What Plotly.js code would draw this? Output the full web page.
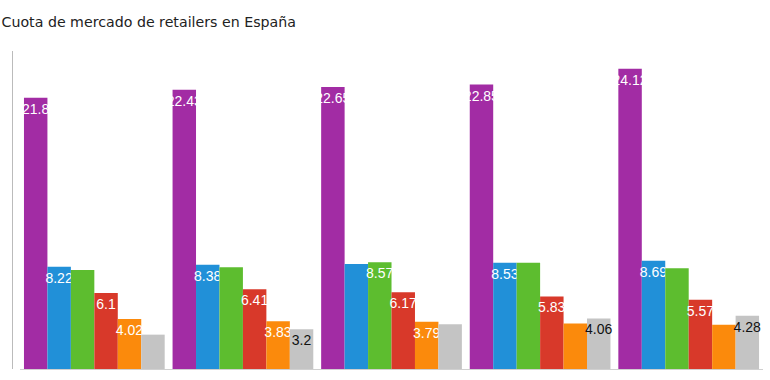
<!DOCTYPE html>
<html>
<head>
<meta charset="utf-8">
<script src="https://cdn.plot.ly/plotly-3.0.1.min.js"></script>
<style>html,body{margin:0;padding:0;background:#fff;}#chart{width:770px;height:380px;}</style>
</head>
<body>
<div id="chart"></div>
<script>
// Categories (periods) – not labelled in the reference
const categories = ['P1', 'P2', 'P3', 'P4', 'P5'];

// Series names and values (% market share)
const seriesNames = ['Mercadona', 'Carrefour', 'Grupo DIA', 'Eroski', 'Auchan', 'Lidl'];
const mercadona = [21.8, 22.43, 22.65, 22.85, 24.12];
const carrefour = [8.22, 8.38, 8.43, 8.53, 8.69];
const dia       = [7.95, 8.17, 8.57, 8.53, 8.10];
const eroski    = [6.1, 6.41, 6.17, 5.83, 5.57];
const auchan    = [4.02, 3.83, 3.79, 3.66, 3.56];
const lidl      = [2.76, 3.2, 3.6, 4.06, 4.28];

// Which value labels are visible in the reference
const mercadonaLabels = ['21.8', '22.43', '22.65', '22.85', '24.12'];
const carrefourLabels = ['8.22', '8.38', '', '8.53', '8.69'];
const diaLabels       = ['', '', '8.57', '', ''];
const eroskiLabels    = ['6.1', '6.41', '6.17', '5.83', '5.57'];
const auchanLabels    = ['4.02', '3.83', '3.79', '', ''];
const lidlLabels      = ['', '3.2', '', '4.06', '4.28'];

const series = [mercadona, carrefour, dia, eroski, auchan, lidl];
const labels = [mercadonaLabels, carrefourLabels, diaLabels, eroskiLabels, auchanLabels, lidlLabels];
const colors = ['#a22ca4', '#2190d8', '#5dbd2f', '#d8392a', '#fb8a0c', '#c4c4c4'];
const textColors = ['#ffffff', '#ffffff', '#ffffff', '#ffffff', '#ffffff', '#111111'];

const traces = series.map((vals, i) => ({
  type: 'bar',
  name: seriesNames[i],
  x: categories,
  y: vals,
  text: labels[i],
  textposition: 'inside',
  insidetextanchor: 'end',
  textangle: 0,
  constraintext: 'none',
  cliponaxis: false,
  insidetextfont: {family: 'Liberation Sans, Arial, sans-serif', size: 14, color: textColors[i]},
  marker: {color: colors[i], line: {width: 0}},
  hoverinfo: 'none'
}));

const layout = {
  width: 770,
  height: 380,
  margin: {l: 12, r: 7, t: 51, b: 11, pad: 0},
  paper_bgcolor: '#ffffff',
  plot_bgcolor: '#ffffff',
  showlegend: false,
  barmode: 'group',
  bargap: 0.053,
  bargroupgap: 0,
  title: {
    text: 'Cuota de mercado de retailers en España',
    x: 0.002, xref: 'container', xanchor: 'left',
    y: 0.943, yref: 'container', yanchor: 'middle',
    font: {family: 'DejaVu Sans, Verdana, sans-serif', size: 14.2, color: '#222222'}
  },
  xaxis: {
    domain: [0.0107, 1],
    range: [-0.5, 4.5],
    showticklabels: false,
    ticks: '',
    showgrid: false,
    zeroline: false,
    showline: true,
    linecolor: '#d0d0d0',
    linewidth: 1
  },
  yaxis: {
    range: [0, 25.55],
    anchor: 'free',
    position: 0,
    showticklabels: false,
    ticks: '',
    showgrid: false,
    zeroline: false,
    showline: true,
    linecolor: '#bbbbbb',
    linewidth: 1
  }
};

Plotly.newPlot('chart', traces, layout, {staticPlot: true, displayModeBar: false});
</script>
</body>
</html>
